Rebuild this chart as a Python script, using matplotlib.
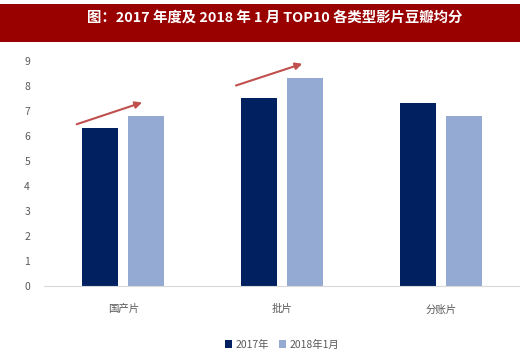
import numpy as np
import matplotlib.pyplot as plt
from matplotlib.patches import Rectangle

plt.rcParams['font.family'] = ['Noto Sans CJK SC', 'DejaVu Sans']

categories = ['国产片', '批片', '分账片']
scores_2017 = [6.3, 7.5, 7.3]
scores_2018_jan = [6.8, 8.3, 6.8]
series_names = ['2017年', '2018年1月']
title = '图：2017 年度及 2018 年 1 月 TOP10 各类型影片豆瓣均分'

fig = plt.figure(figsize=(5.2, 3.56), dpi=100)

# title banner
fig.patches.append(Rectangle((0, 1 - 42 / 356), 1, 38 / 356, transform=fig.transFigure,
                             facecolor='#990000', edgecolor='none', zorder=0))
fig.text(275 / 520, 1 - 18 / 356, title, color='white', fontsize=10.4, fontweight='bold',
         ha='center', va='center')

ax = fig.add_axes([44 / 520, 1 - 286 / 356, 476 / 520, 225 / 356])
x = np.arange(len(categories))
w = 0.225
ax.bar(x - 0.145, scores_2017, w, color='#002060', label=series_names[0])
ax.bar(x + 0.145, scores_2018_jan, w, color='#95AAD2', label=series_names[1])

ax.set_xlim(-0.5, 2.5)
ax.set_ylim(0, 9)
ax.set_yticks(range(10))
ax.set_xticks(x)
ax.set_xticklabels(categories)
ax.tick_params(axis='y', length=0, labelsize=7.5, labelcolor='#595959', pad=10)
ax.tick_params(axis='x', length=0, labelsize=7.5, labelcolor='#595959', pad=13)
for s in ['top', 'right', 'left']:
    ax.spines[s].set_visible(False)
ax.spines['bottom'].set_color('#D9D9D9')

# trend arrows
arrows = [((-0.294, 6.47), (0.118, 7.34)), ((0.71, 8.02), (1.128, 8.89))]
for start, end in arrows:
    ax.annotate('', xy=end, xytext=start, annotation_clip=False,
                arrowprops=dict(arrowstyle='-|>', color='#C0504D', lw=1.5,
                                mutation_scale=10, shrinkA=0, shrinkB=0))

ax.legend(loc='center', bbox_to_anchor=(0.5, -0.26), ncol=2, frameon=False,
          fontsize=7.5, handlelength=0.7, handleheight=0.7, handletextpad=0.3,
          columnspacing=1.0, labelcolor='#595959')

fig.savefig('out.png', dpi=100)
